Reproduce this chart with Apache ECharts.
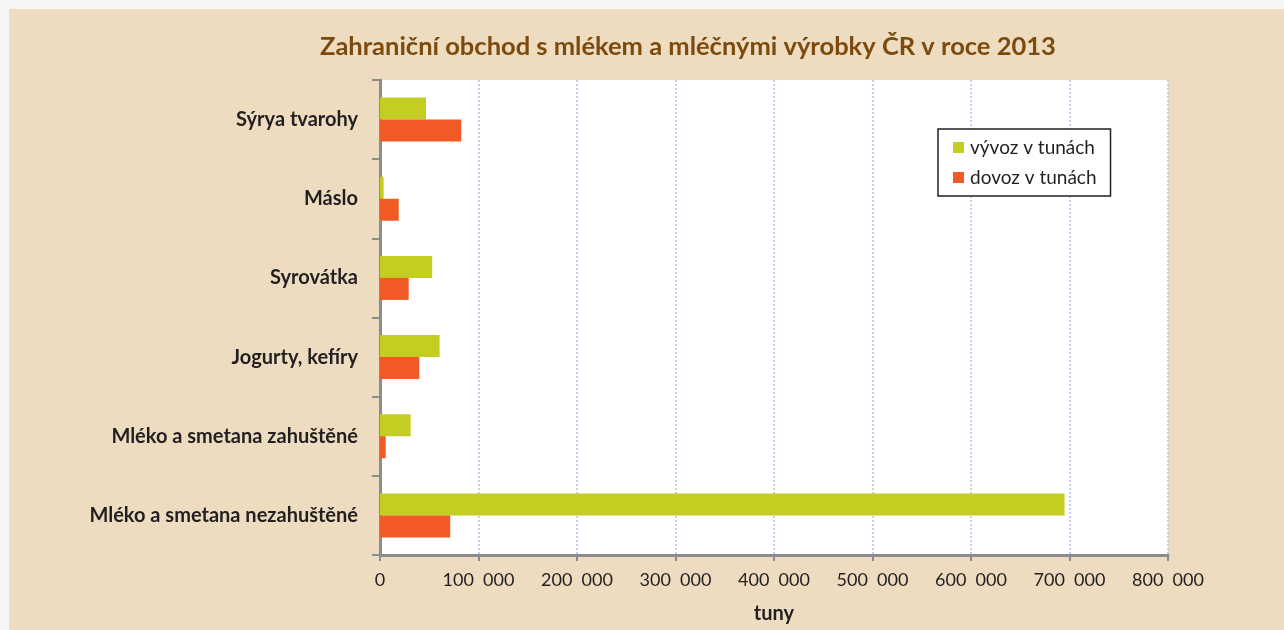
<!DOCTYPE html>
<html>
<head>
<meta charset="utf-8">
<script src="https://cdn.jsdelivr.net/npm/echarts@6/dist/echarts.min.js"></script>
<style>
  html, body { margin: 0; padding: 0; background: #f6f6f6; }
  #chart { position: absolute; left: 9px; top: 9px; width: 1275px; height: 621px; background: #eddcbf; }
</style>
</head>
<body>
<div id="chart"></div>
<script>
  // kategorie shora dolu
  var categories = ['Sýrya tvarohy', 'Máslo', 'Syrovátka', 'Jogurty, kefíry',
    'Mléko a smetana zahuštěné', 'Mléko a smetana nezahuštěné']
  var vyvoz = [46700, 3700, 53000, 60500, 31100, 695000]
  var dovoz = [82500, 19000, 29100, 39900, 5800, 71300]
  var seriesNames = ['vývoz v tunách', 'dovoz v tunách']
  var xMax = 800000
  var xStep = 100000

  var chart = echarts.init(document.getElementById('chart'))

  var font = 'Lato, "Open Sans", sans-serif'

  chart.setOption({
    animation: false,
    textStyle: { fontFamily: font },
    title: {
      text: 'Zahraniční obchod s mlékem a mléčnými výrobky ČR v roce 2013',
      left: 306,
      top: 20,
      textStyle: { color: '#7b4a0c', fontSize: 25.5, fontWeight: 'bold', fontFamily: font }
    },
    legend: {
      orient: 'vertical',
      left: 929,
      top: 120,
      padding: [9, 14, 9, 15],
      itemGap: 11,
      itemWidth: 11,
      itemHeight: 11,
      icon: 'rect',
      backgroundColor: '#ffffff',
      borderColor: '#231f20',
      borderWidth: 1.5,
      textStyle: { color: '#231f20', fontSize: 19, fontFamily: font, padding: [0, 0, 0, 1] },
      data: seriesNames
    },
    grid: {
      left: 371,
      right: 116,
      top: 71,
      bottom: 75,
      show: true,
      backgroundColor: '#ffffff',
      borderWidth: 0
    },
    xAxis: {
      type: 'value',
      min: 0,
      max: xMax,
      interval: xStep,
      name: 'tuny',
      nameLocation: 'middle',
      nameGap: 49,
      nameTextStyle: { color: '#231f20', fontSize: 20, fontWeight: 'bold', fontFamily: font },
      axisLine: { show: true, lineStyle: { color: '#8c8c8c', width: 3 } },
      axisTick: { show: true, length: 6, lineStyle: { color: '#8c8c8c', width: 2 } },
      axisLabel: {
        color: '#231f20',
        fontSize: 18,
        margin: 16,
        formatter: function (v) {
          return v === 0 ? '0' : String(v).replace(/\B(?=(\d{3})+(?!\d))/g, '  ')
        }
      },
      splitLine: { show: true, lineStyle: { color: '#a9c4ea', type: [2, 2], width: 1.5 } }
    },
    yAxis: {
      type: 'category',
      inverse: true,
      data: categories,
      axisLine: { show: true, lineStyle: { color: '#8c8c8c', width: 3 } },
      axisTick: { show: true, length: 8, lineStyle: { color: '#8c8c8c', width: 2 } },
      axisLabel: { color: '#231f20', fontSize: 20, fontWeight: 'bold', margin: 22 },
      splitLine: { show: false }
    },
    series: [
      {
        name: seriesNames[0],
        type: 'bar',
        barWidth: 22,
        barGap: '0%',
        itemStyle: { color: '#c3cd22' },
        data: vyvoz
      },
      {
        name: seriesNames[1],
        type: 'bar',
        barWidth: 22,
        barGap: '0%',
        itemStyle: { color: '#f15a24' },
        data: dovoz
      }
    ]
  })
</script>
</body>
</html>
